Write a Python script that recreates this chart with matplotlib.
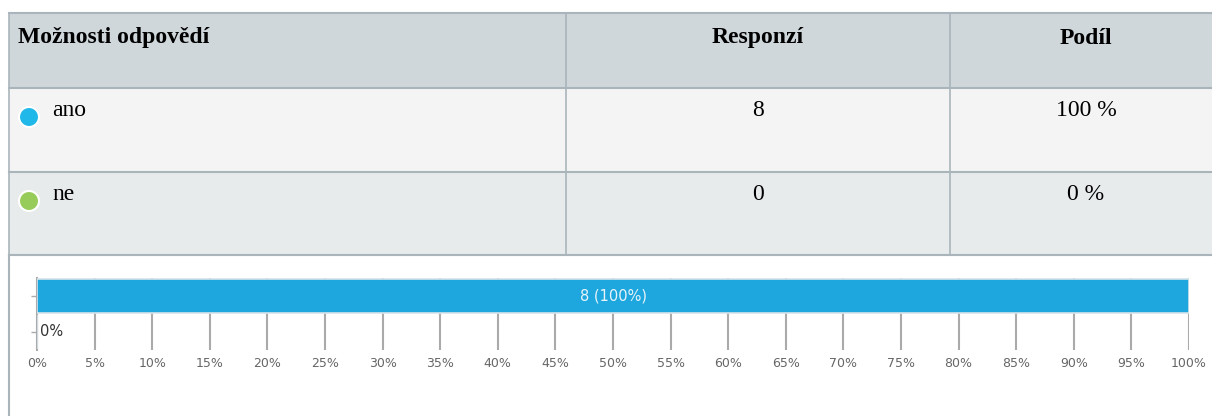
import matplotlib.pyplot as plt
from matplotlib.patches import Rectangle, Circle

# data
moznosti = ['ano', 'ne']
responzi = [8, 0]
podil = [100, 0]
barvy = ['#1fb8e8', '#97cb5a']
bar_barva = '#1ea7de'
hlavicka = ['Možnosti odpovědí', 'Responzí', 'Podíl']
x_ticks = list(range(0, 101, 5))

W, H = 1212, 416
fig = plt.figure(figsize=(W / 100, H / 100), dpi=100)

# overlay axes in pixel coords for the table
tab = fig.add_axes([0, 0, 1, 1])
tab.set_xlim(0, W)
tab.set_ylim(H, 0)
tab.axis('off')

border = '#a9b5bb'
col_x = [9, 566, 950, 1222]
row_y = [13, 88, 172, 255]
row_bg = ['#cfd7db', '#f4f4f4', '#e7ebec']

for i in range(3):
    tab.add_patch(Rectangle((col_x[0], row_y[i]), col_x[-1] - col_x[0], row_y[i + 1] - row_y[i],
                            facecolor=row_bg[i], edgecolor='none', zorder=1))
for y in row_y:
    tab.plot([col_x[0], W], [y, y], color=border, lw=1.5, zorder=2)
for x in col_x[:3]:
    tab.plot([x, x], [row_y[0], row_y[-1]], color=border, lw=1.2, zorder=2)
# left border continues down around the chart
tab.plot([col_x[0], col_x[0]], [row_y[-1], H], color=border, lw=1.5, zorder=2)

serif = 'Liberation Serif'
fs = 17
tab.text(18, 38, hlavicka[0], family=serif, fontsize=fs, weight='bold', va='center', ha='left')
tab.text((col_x[1] + col_x[2]) / 2, 38, hlavicka[1], family=serif, fontsize=fs, weight='bold',
         va='center', ha='center')
tab.text((col_x[2] + col_x[3]) / 2, 38, hlavicka[2], family=serif, fontsize=fs, weight='bold',
         va='center', ha='center')

for i, (m, r, p, c) in enumerate(zip(moznosti, responzi, podil, barvy)):
    yc = row_y[i + 1] + 23
    tab.add_patch(Circle((29, yc + 6), 10, facecolor=c, edgecolor='white', lw=1.5, zorder=3))
    tab.text(52, yc, m, family=serif, fontsize=fs, va='center', ha='left', zorder=3)
    tab.text((col_x[1] + col_x[2]) / 2, yc, str(r), family=serif, fontsize=fs, va='center', ha='center')
    tab.text((col_x[2] + col_x[3]) / 2, yc, f'{p} %', family=serif, fontsize=fs, va='center', ha='center')

# bar chart
ax = fig.add_axes([37 / W, 1 - 350 / H, (1189 - 37) / W, 72 / H])
ypos = list(range(len(moznosti)))
ax.barh(ypos, podil, height=0.95, color=bar_barva, edgecolor='#d6e4ea', lw=1.2, zorder=3)
ax.set_xlim(0, 100)
ax.set_ylim(len(moznosti) - 0.5, -0.5)
ax.set_xticks(x_ticks)
ax.set_xticklabels([f'{t}%' for t in x_ticks], fontsize=9, color='#666666')
ax.set_yticks(ypos)
ax.set_yticklabels([])
ax.grid(axis='x', color='#aaaaaa', lw=1.5, zorder=0)
ax.tick_params(axis='x', length=0, pad=5)
ax.tick_params(axis='y', length=4, color='#aaaaaa', width=1)
for s in ['top', 'right', 'bottom']:
    ax.spines[s].set_visible(False)
ax.spines['left'].set_color('#aaaaaa')
ax.spines['left'].set_linewidth(1.5)
ax.patch.set_alpha(0)

for i, (r, p) in enumerate(zip(responzi, podil)):
    if p > 0:
        ax.text(p / 2, i, f'{r} ({p}%)', ha='center', va='center', fontsize=10.5, color='#e8f4fa', zorder=4)
    else:
        ax.text(0.3, i, f'{p}%', ha='left', va='center', fontsize=10.5, color='#333333', zorder=4)

fig.savefig('out.png', dpi=100)
